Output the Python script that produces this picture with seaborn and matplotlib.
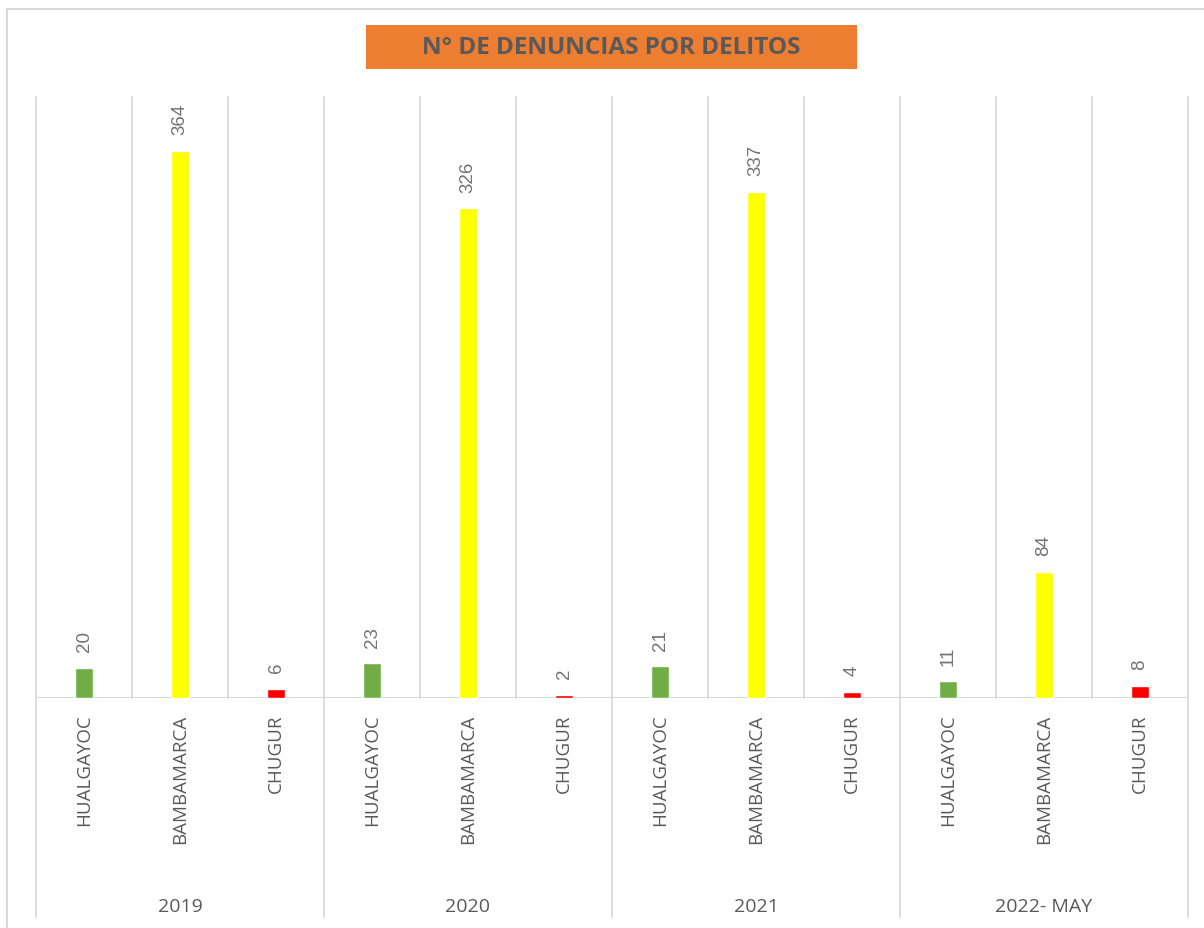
import matplotlib
matplotlib.use("Agg")
import matplotlib.pyplot as plt
import seaborn as sns
import pandas as pd
from matplotlib.patches import Rectangle
from matplotlib.lines import Line2D
import matplotlib.transforms as mtransforms

# datos del gráfico
years = ["2019", "2020", "2021", "2022- MAY"]
municipios = ["HUALGAYOC", "BAMBAMARCA", "CHUGUR"]
hualgayoc = [20, 23, 21, 11]
bambamarca = [364, 326, 337, 84]
chugur = [6, 2, 4, 8]
colores = {"HUALGAYOC": "#70AD47", "BAMBAMARCA": "#FFFF00", "CHUGUR": "#FF0000"}

rows = []
for i, y in enumerate(years):
    for m, vals in zip(municipios, [hualgayoc, bambamarca, chugur]):
        rows.append({"slot": f"{y}|{m}", "year": y, "municipio": m, "valor": vals[i]})
df = pd.DataFrame(rows)

sns.set_theme(style="white")
plt.rcParams["font.family"] = ["Open Sans", "DejaVu Sans"]

W, H = 1204, 929
fig = plt.figure(figsize=(W / 100, H / 100), dpi=100)
ax = fig.add_axes([36 / W, 1 - 699 / H, (1188 - 36) / W, (699 - 98) / H])

sns.barplot(data=df, x="slot", y="valor", hue="municipio", palette=colores,
            dodge=False, width=0.19, saturation=1, legend=False, ax=ax, zorder=3)

grid_c = "#D9D9D9"
txt_c = "#595959"
ax.set_ylim(0, 400)
ax.set_xlim(-0.5, 11.5)
for s in ax.spines.values():
    s.set_visible(False)
ax.set_yticks([])
ax.set_xlabel("")
ax.set_ylabel("")
ax.axhline(0, color=grid_c, lw=1.5, zorder=2)

# líneas verticales entre categorías
trans = mtransforms.blended_transform_factory(ax.transData, ax.transAxes)
for k in range(13):
    x = k - 0.5
    y0 = -(918 - 699) / 601 if k % 3 == 0 else 0
    ax.add_line(Line2D([x, x], [y0, 1], transform=trans, color=grid_c,
                       lw=1.3, clip_on=False, zorder=1))

ax.set_xticks(range(len(df)))
ax.set_xticklabels(df["municipio"], rotation=90, color=txt_c, fontsize=13.5)
ax.tick_params(axis="x", length=0, pad=11)

# etiquetas de años
for i, y in enumerate(years):
    ax.text(1 + 3 * i, -(907 - 699) / 601, y, transform=trans, ha="center",
            va="center", color=txt_c, fontsize=14)

# etiquetas de valores
for i, v in enumerate(df["valor"]):
    ax.annotate(str(v), (i, v), xytext=(0, 12), textcoords="offset points",
                rotation=90, ha="center", va="bottom", color="#737373",
                fontsize=13.5, family=["Liberation Sans", "DejaVu Sans"])

# marco exterior
fig.add_artist(Rectangle((7 / W, -0.01), 1.0, 1 - 10 / H + 0.01,
                         transform=fig.transFigure, fill=False,
                         edgecolor=grid_c, lw=1.5))

# título
fig.add_artist(Rectangle((366 / W, 1 - 70 / H), 491 / W, 44 / H,
                         transform=fig.transFigure, facecolor="#ED7D31",
                         edgecolor="none"))
fig.text(611 / W, 1 - 48 / H, "N° DE DENUNCIAS POR DELITOS", ha="center",
         va="center", fontsize=17.5, fontweight="bold", color=txt_c)

fig.savefig("out.png", dpi=100)
